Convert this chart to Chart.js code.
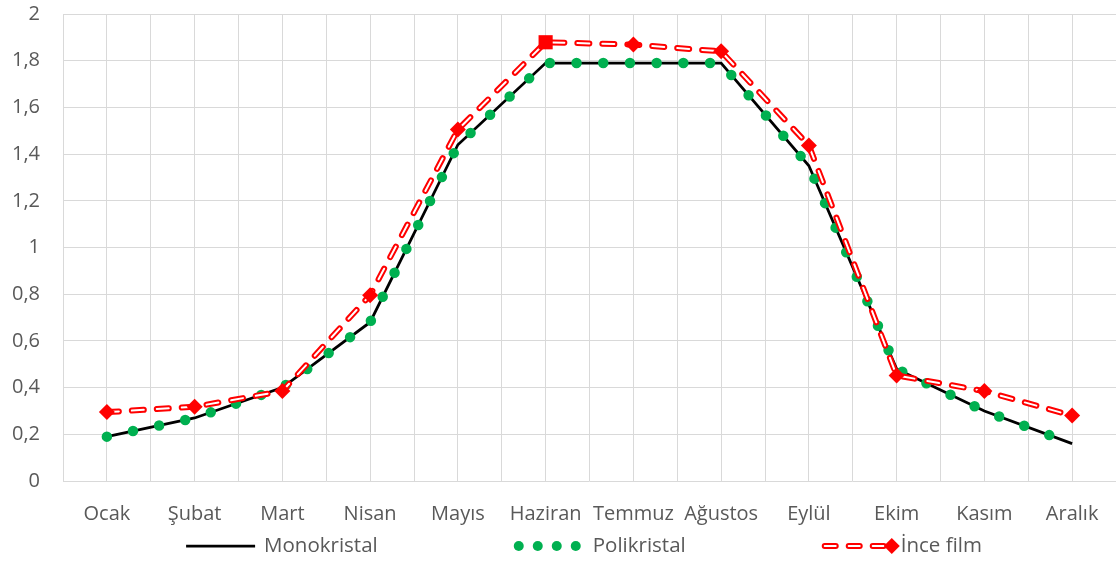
<!DOCTYPE html>
<html>
<head>
<meta charset="utf-8">
<script src="https://cdn.jsdelivr.net/npm/chart.js@4.4.1/dist/chart.umd.min.js"></script>
<style>
  html, body { margin: 0; padding: 0; background: #fff; }
  #wrap { width: 1116px; height: 563px; }
</style>
</head>
<body>
<div id="wrap"><canvas id="chart" width="1116" height="563"></canvas></div>
<script>
// chart data
const months = ['Ocak', 'Şubat', 'Mart', 'Nisan', 'Mayıs', 'Haziran', 'Temmuz', 'Ağustos', 'Eylül', 'Ekim', 'Kasım', 'Aralık'];
const monokristal = [0.19, 0.27, 0.40, 0.68, 1.44, 1.79, 1.79, 1.79, 1.35, 0.48, 0.30, 0.16];
const polikristal = [0.19, 0.27, 0.40, 0.68, 1.44, 1.79, 1.79, 1.79, 1.35, 0.48, 0.30, 0.16];
const inceFilm = [0.295, 0.318, 0.385, 0.796, 1.505, 1.879, 1.869, 1.84, 1.437, 0.452, 0.385, 0.28];
const seriesNames = ['Monokristal', 'Polikristal', 'İnce film'];
const yMin = 0, yMax = 2, yStep = 0.2;

const FONT = "'Open Sans', 'Liberation Sans', sans-serif";
const TEXT = '#595959';
const GRID = '#d9d9d9';
const GREEN = '#00b050';
const RED = '#ff0000';

// month index -> x, so points sit on the linear scale
const toPoints = arr => arr.map((v, i) => ({ x: i, y: v }));

// Excel-like legend drawn under the axis labels
const legendPlugin = {
  id: 'excelLegend',
  afterDraw(chart) {
    const ctx = chart.ctx;
    const area = chart.chartArea;
    const y = 546;
    const symW = 70, symGap = 9, itemGap = 136;
    ctx.save();
    ctx.font = '20.5px ' + FONT;
    const widths = seriesNames.map(n => symW + symGap + ctx.measureText(n).width);
    const total = widths.reduce((a, b) => a + b, 0) + itemGap * (widths.length - 1);
    let x = (area.left + area.right) / 2 - total / 2 - 6;

    seriesNames.forEach((name, i) => {
      if (i === 0) {
        ctx.strokeStyle = '#000';
        ctx.lineWidth = 2.75;
        ctx.setLineDash([]);
        ctx.beginPath();
        ctx.moveTo(x + 1, y);
        ctx.lineTo(x + 70, y);
        ctx.stroke();
      } else if (i === 1) {
        ctx.fillStyle = GREEN;
        for (let k = 0; k < 4; k++) {
          ctx.beginPath();
          ctx.arc(x + 5 + k * 19, y, 5, 0, Math.PI * 2);
          ctx.fill();
        }
      } else {
        ctx.lineCap = 'round';
        ctx.setLineDash([11, 13]);
        ctx.strokeStyle = RED;
        ctx.lineWidth = 6;
        ctx.beginPath();
        ctx.moveTo(x + 3, y);
        ctx.lineTo(x + 66, y);
        ctx.stroke();
        ctx.strokeStyle = '#fff';
        ctx.lineWidth = 2;
        ctx.stroke();
        ctx.setLineDash([]);
        ctx.fillStyle = RED;
        ctx.beginPath();
        ctx.moveTo(x + 70, y - 8);
        ctx.lineTo(x + 78, y);
        ctx.lineTo(x + 70, y + 8);
        ctx.lineTo(x + 62, y);
        ctx.closePath();
        ctx.fill();
      }
      ctx.fillStyle = TEXT;
      ctx.textBaseline = 'middle';
      ctx.textAlign = 'left';
      ctx.fillText(name, x + symW + symGap, y);
      x += widths[i] + itemGap;
    });
    ctx.restore();
  }
};

const markerStyles = inceFilm.map((v, i) => (i === 5 ? 'rect' : 'rectRot'));
const markerSizes = inceFilm.map((v, i) => (i === 5 ? 10 : 8));

new Chart(document.getElementById('chart'), {
  type: 'line',
  data: {
    datasets: [
      {
        label: seriesNames[0],
        data: toPoints(monokristal),
        borderColor: '#000',
        borderWidth: 2.75,
        pointRadius: 0,
        order: 5
      },
      {
        label: seriesNames[1],
        data: toPoints(polikristal),
        borderColor: GREEN,
        borderWidth: 10.5,
        borderDash: [0, 26.7],
        borderCapStyle: 'round',
        pointRadius: 0,
        order: 4
      },
      {
        label: seriesNames[2],
        data: toPoints(inceFilm),
        borderColor: RED,
        borderWidth: 6,
        borderDash: [12, 13],
        borderCapStyle: 'round',
        pointRadius: 0,
        order: 3
      },
      {
        label: seriesNames[2] + ' (iç)',
        data: toPoints(inceFilm),
        borderColor: '#ffffff',
        borderWidth: 2,
        borderDash: [12, 13],
        borderCapStyle: 'round',
        pointRadius: 0,
        order: 2
      },
      {
        label: seriesNames[2] + ' (işaret)',
        data: toPoints(inceFilm),
        showLine: false,
        pointStyle: markerStyles,
        pointRadius: markerSizes,
        pointBackgroundColor: RED,
        pointBorderColor: RED,
        pointBorderWidth: 0,
        order: 1
      }
    ]
  },
  options: {
    responsive: false,
    animation: false,
    devicePixelRatio: 1,
    layout: { autoPadding: false, padding: { top: 14, right: -2, bottom: 0, left: 0 } },
    plugins: {
      legend: { display: false },
      tooltip: { enabled: false }
    },
    scales: {
      x: {
        type: 'linear',
        min: -0.5,
        max: months.length - 0.5,
        afterFit: scale => {
          scale.height = 82;
          scale.paddingLeft = 0;
          scale.paddingRight = 0;
        },
        afterBuildTicks: scale => {
          const ticks = [];
          for (let v = -0.5; v <= months.length - 0.5; v += 0.5) ticks.push({ value: v });
          scale.ticks = ticks;
        },
        ticks: {
          autoSkip: false,
          maxRotation: 0,
          padding: 21,
          color: TEXT,
          font: { family: FONT, size: 20 },
          callback: v => (Number.isInteger(v) ? months[v] : '')
        },
        grid: { color: GRID, lineWidth: 1, drawTicks: false },
        border: { display: false }
      },
      y: {
        min: yMin,
        max: yMax,
        afterFit: scale => {
          scale.width = 63;
          scale.paddingTop = 0;
          scale.paddingBottom = 0;
        },
        ticks: {
          stepSize: yStep,
          padding: 23,
          color: TEXT,
          font: { family: FONT, size: 20 },
          callback: v => String(Number(v.toFixed(1))).replace('.', ',')
        },
        grid: { color: GRID, lineWidth: 1, drawTicks: false },
        border: { display: false }
      }
    }
  },
  plugins: [legendPlugin]
});
</script>
</body>
</html>
